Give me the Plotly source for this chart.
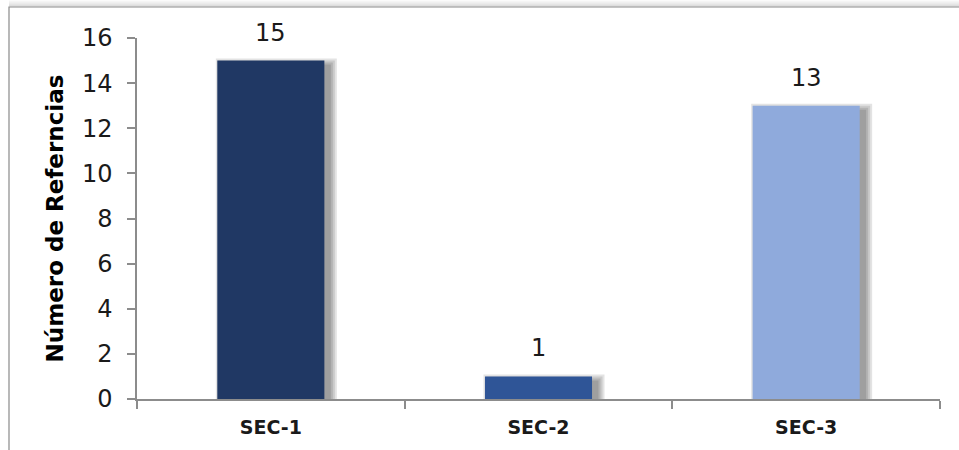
import plotly.graph_objects as go

# Data
categories = ["SEC-1", "SEC-2", "SEC-3"]
values = [15, 1, 13]
bar_colors = ["#203864", "#2F5597", "#8FAADC"]

y_title = "Número de Referncias"
y_ticks = [0, 2, 4, 6, 8, 10, 12, 14, 16]

FONT = "DejaVu Sans"
AXIS_GRAY = "#8C8C8C"

fig = go.Figure(
    go.Bar(
        x=categories,
        y=values,
        marker=dict(color=bar_colors, line=dict(width=0)),
        width=0.4,
        hoverinfo="x+y",
    )
)

# Soft drop shadow behind each bar (stacked translucent rectangles)
px_per_unit = 361 / 16
half_w = 54
shapes = []
for i, v in enumerate(values):
    for s in [7, 5, 3, 1]:
        shapes.append(dict(
            type="rect", layer="below",
            xref="x", yref="y",
            xsizemode="pixel", xanchor=i,
            x0=-half_w + 6 - s, x1=half_w + 5 + s,
            y0=0, y1=v - (5 - s) / px_per_unit,
            fillcolor="rgba(0,0,0,0.11)", line=dict(width=0),
        ))

# Chart frame with a faint shadow along its top edge
for k, a in enumerate([0.03, 0.05, 0.07, 0.09, 0.12, 0.15]):
    yy = 1 + (31 + 6 - k) / 361
    shapes.append(dict(
        type="line", xref="paper", yref="paper",
        x0=(9 - 137) / 803, x1=1.2, y0=yy, y1=yy,
        line=dict(color=f"rgba(0,0,0,{a})", width=1),
    ))
shapes.append(dict(
    type="rect", xref="paper", yref="paper",
    x0=(9 - 137) / 803, x1=1.2,
    y0=-0.3, y1=1 + 31 / 361,
    line=dict(color="#8A8A8A", width=1.2),
    fillcolor="rgba(0,0,0,0)",
))

annotations = [
    dict(x=c, y=v, text=str(v), xref="x", yref="y",
         showarrow=False, yanchor="bottom", yshift=12,
         font=dict(family=FONT, size=24, color="#1A1A1A"))
    for c, v in zip(categories, values)
]

fig.update_layout(
    width=959, height=450,
    margin=dict(l=137, r=19, t=38, b=51),
    paper_bgcolor="white", plot_bgcolor="white",
    showlegend=False,
    shapes=shapes,
    annotations=annotations,
    xaxis=dict(
        type="category",
        showline=True, linecolor=AXIS_GRAY, linewidth=1.5,
        ticks="outside", tickson="boundaries", ticklen=8,
        tickcolor=AXIS_GRAY, tickwidth=1.5,
        tickfont=dict(family=FONT, size=19, color="#1A1A1A", weight="bold"),
        ticklabelstandoff=10,
        showgrid=False, zeroline=False,
    ),
    yaxis=dict(
        range=[0, 16], tickvals=y_ticks,
        showline=True, linecolor=AXIS_GRAY, linewidth=1.5,
        ticks="outside", ticklen=8, tickcolor=AXIS_GRAY, tickwidth=1.5,
        tickfont=dict(family=FONT, size=24, color="#1A1A1A"),
        ticklabelstandoff=10,
        showgrid=False, zeroline=False,
        title=dict(text=y_title, standoff=12,
                   font=dict(family=FONT, size=23, color="#000000", weight="bold")),
    ),
)

fig.write_html("out.html")
